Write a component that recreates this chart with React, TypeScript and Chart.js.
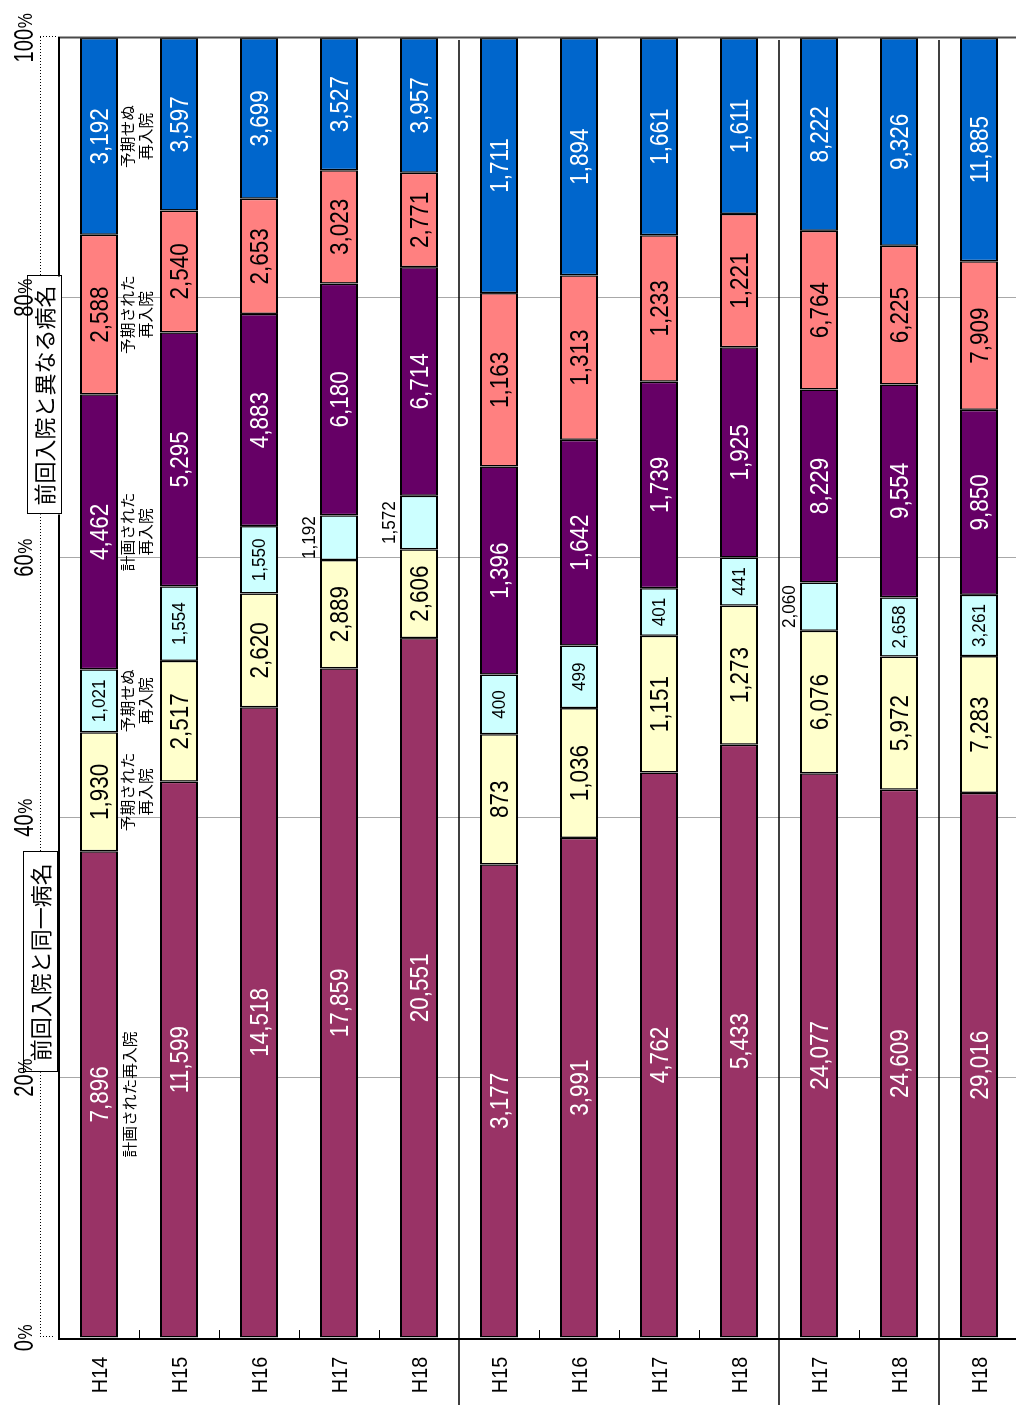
import React, { useEffect, useRef } from 'react';
import { Chart, registerables } from 'chart.js';

Chart.register(...registerables);

// ---- data ----
const categories = ['H14', 'H15', 'H16', 'H17', 'H18', 'H15', 'H16', 'H17', 'H18', 'H17', 'H18', 'H18'];
const plannedSame = [7896, 11599, 14518, 17859, 20551, 3177, 3991, 4762, 5433, 24077, 24609, 29016];
const expectedSame = [1930, 2517, 2620, 2889, 2606, 873, 1036, 1151, 1273, 6076, 5972, 7283];
const unexpectedSame = [1021, 1554, 1550, 1192, 1572, 400, 499, 401, 441, 2060, 2658, 3261];
const plannedDiff = [4462, 5295, 4883, 6180, 6714, 1396, 1642, 1739, 1925, 8229, 9554, 9850];
const expectedDiff = [2588, 2540, 2653, 3023, 2771, 1163, 1313, 1233, 1221, 6764, 6225, 7909];
const unexpectedDiff = [3192, 3597, 3699, 3527, 3957, 1711, 1894, 1661, 1611, 8222, 9326, 11885];
const valueTicks = [0, 20, 40, 60, 80, 100];
const seriesNames = [
  ['計画された再入院'],
  ['予期された', '再入院'],
  ['予期せぬ', '再入院'],
  ['計画された', '再入院'],
  ['予期された', '再入院'],
  ['予期せぬ', '再入院'],
];
const groupTitles = ['前回入院と同一病名', '前回入院と異なる病名'];
const groupEnds = [4, 8, 10];
const outsideLabelCats = [3, 4, 9];

// ---- styles ----
const series = [plannedSame, expectedSame, unexpectedSame, plannedDiff, expectedDiff, unexpectedDiff];
const fills = ['#993366', '#FFFFCC', '#CCFFFF', '#660066', '#FF8080', '#0066CC'];
const textColors = ['#ffffff', '#000000', '#000000', '#ffffff', '#000000', '#ffffff'];
const titleCenters = [28.9, 72.5];
const titleWidths = [220, 238];
const titleTops = [23, 27];
const NUM = '"Liberation Sans", Arial, sans-serif';
const CJK = '"Noto Sans CJK JP", "Noto Sans CJK SC", sans-serif';

function fmt(v: number) {
  return v.toLocaleString('en-US');
}

function drawScaled(ctx: CanvasRenderingContext2D, text: string, x: number, baseY: number, font: string, sx: number, color: string, align: CanvasTextAlign = 'center', baseline: CanvasTextBaseline = 'alphabetic') {
  ctx.save();
  ctx.font = font;
  ctx.fillStyle = color;
  ctx.textAlign = align;
  ctx.textBaseline = baseline;
  ctx.translate(x, baseY);
  ctx.scale(sx, 1);
  ctx.fillText(text, 0, 0);
  ctx.restore();
}

const decor = {
  id: 'decor',
  afterDatasetsDraw(chart: any) {
    const ctx: CanvasRenderingContext2D = chart.ctx;
    const xs = chart.scales.x;
    const ys = chart.scales.y;
    const area = chart.chartArea;
    const x0 = xs.getPixelForValue(0);
    const x100 = xs.getPixelForValue(100);
    const step = ys.getPixelForValue(1) - ys.getPixelForValue(0);
    ctx.save();

    // 100% line
    ctx.strokeStyle = '#4a4a4a';
    ctx.lineWidth = 2;
    ctx.beginPath();
    ctx.moveTo(x100 + 0.5, area.top - 1);
    ctx.lineTo(x100 + 0.5, chart.height);
    ctx.stroke();

    // category axis (0%)
    ctx.strokeStyle = '#000';
    ctx.lineWidth = 2;
    ctx.beginPath();
    ctx.moveTo(x0 - 1, area.top - 1);
    ctx.lineTo(x0 - 1, chart.height);
    ctx.stroke();

    // value axis border line
    ctx.beginPath();
    ctx.moveTo(x0 - 2, area.top);
    ctx.lineTo(x100 + 1, area.top);
    ctx.stroke();

    // category tick marks & group separators
    for (let k = 1; k < categories.length; k++) {
      const yb = ys.getPixelForValue(k) - step / 2;
      if (groupEnds.includes(k - 1)) {
        ctx.lineWidth = 1.5;
        ctx.beginPath();
        ctx.moveTo(0, yb);
        ctx.lineTo(x100 - 2, yb);
        ctx.stroke();
      } else {
        ctx.lineWidth = 1;
        ctx.beginPath();
        ctx.moveTo(x0, Math.round(yb) + 0.5);
        ctx.lineTo(x0 + 8, Math.round(yb) + 0.5);
        ctx.stroke();
      }
    }

    // dotted value axis
    ctx.lineWidth = 1;
    ctx.setLineDash([1, 2]);
    ctx.beginPath();
    ctx.moveTo(x0 + 1, 40.5);
    ctx.lineTo(x100 + 1, 40.5);
    ctx.moveTo(x100 + 1.5, 40);
    ctx.lineTo(x100 + 1.5, area.top - 1);
    ctx.moveTo(x0 + 1.5, 40);
    ctx.lineTo(x0 + 1.5, area.top - 6);
    ctx.stroke();
    ctx.setLineDash([]);

    // category labels
    categories.forEach((c, i) => {
      const cy = ys.getPixelForValue(i);
      drawScaled(ctx, c, 30, cy + 7.9, `22px ${NUM}`, 0.9, '#000');
    });

    // value labels
    series.forEach((arr, d) => {
      const meta = chart.getDatasetMeta(d);
      meta.data.forEach((bar: any, i: number) => {
        const p = bar.getProps(['x', 'y', 'base'], true);
        const cx = (p.x + p.base) / 2;
        const text = fmt(arr[i]);
        if (d === 2) {
          if (outsideLabelCats.includes(i)) {
            drawScaled(ctx, text, cx, p.y - 24, `18px ${NUM}`, 0.95, '#000');
          } else {
            drawScaled(ctx, text, cx, p.y + 6.4, `18px ${NUM}`, 0.95, textColors[d]);
          }
        } else {
          drawScaled(ctx, text, cx, p.y + 9, `25px ${NUM}`, 0.9, textColors[d]);
        }
      });
    });

    // series names next to first bar
    series.forEach((_, d) => {
      const bar: any = chart.getDatasetMeta(d).data[0];
      const p = bar.getProps(['x', 'y', 'base'], true);
      const cx = (p.x + p.base) / 2;
      const lines = seriesNames[d];
      if (lines.length === 1) {
        drawScaled(ctx, lines[0], cx, p.y + 30, `15px ${CJK}`, 1.05, '#000', 'center', 'middle');
      } else {
        drawScaled(ctx, lines[0], cx, p.y + 28, `15px ${CJK}`, 1.05, '#000', 'center', 'middle');
        drawScaled(ctx, lines[1], cx, p.y + 46, `15px ${CJK}`, 1.05, '#000', 'center', 'middle');
      }
    });

    // group title boxes
    groupTitles.forEach((t, g) => {
      const cx = xs.getPixelForValue(titleCenters[g]);
      const w = titleWidths[g];
      const top = titleTops[g];
      const h = 34;
      ctx.fillStyle = '#fff';
      ctx.fillRect(cx - w / 2, top, w, h);
      ctx.strokeStyle = '#000';
      ctx.lineWidth = 1;
      ctx.strokeRect(Math.round(cx - w / 2) + 0.5, top + 0.5, w, h);
      drawScaled(ctx, t, cx, top + h / 2 + 1, `22px ${CJK}`, 1.0, '#000', 'center', 'middle');
    });

    // value tick labels (drawn over the boxes)
    valueTicks.forEach((v) => {
      const px = xs.getPixelForValue(v);
      const digits = String(v);
      ctx.font = `28px ${NUM}`;
      const w1 = ctx.measureText(digits).width * 0.72;
      ctx.font = `20px ${NUM}`;
      const w2 = ctx.measureText('%').width * 0.85;
      const start = px - (w1 + w2) / 2;
      drawScaled(ctx, digits, start, 33, `28px ${NUM}`, 0.72, '#000', 'left');
      drawScaled(ctx, '%', start + w1 + 0.5, 32, `20px ${NUM}`, 0.85, '#000', 'left');
    });

    ctx.restore();
  },
};

export default function App() {
  const ref = useRef<HTMLCanvasElement>(null);

  useEffect(() => {
    const canvas = ref.current;
    if (!canvas) return;
    const totals = categories.map((_, i) => series.reduce((s, arr) => s + arr[i], 0));
    const chart = new Chart(canvas, {
      type: 'bar',
      data: {
        labels: categories,
        datasets: series.map((arr, d) => ({
          label: seriesNames[d].join(''),
          data: arr.map((v, i) => (v / totals[i]) * 100),
          backgroundColor: fills[d],
          borderColor: '#000000',
          borderWidth: { top: 2, bottom: 2, left: 1.5, right: 1.5 },
          borderSkipped: false,
          barThickness: 38,
          inflateAmount: 0,
        })),
      },
      options: {
        indexAxis: 'y',
        responsive: false,
        maintainAspectRatio: false,
        animation: false,
        devicePixelRatio: 1,
        layout: { padding: { top: 0, left: 0, right: 38, bottom: 1 } },
        plugins: { legend: { display: false }, tooltip: { enabled: false } },
        scales: {
          x: {
            type: 'linear',
            position: 'top',
            stacked: true,
            min: 0,
            max: 100,
            ticks: { display: false, stepSize: 20 },
            grid: {
              drawTicks: false,
              lineWidth: 1,
              color: (c: any) => (c.tick && c.tick.value > 0 && c.tick.value < 100 ? '#a8a8a8' : 'rgba(0,0,0,0)'),
            },
            border: { display: false },
            afterFit: (s: any) => {
              s.height = 59;
            },
          },
          y: {
            type: 'category',
            stacked: true,
            ticks: { display: false },
            grid: { display: false },
            border: { display: false },
            afterFit: (s: any) => {
              s.width = 67;
            },
          },
        },
      } as any,
      plugins: [decor],
    });
    return () => chart.destroy();
  }, []);

  return (
    <div style={{ position: 'fixed', left: 0, top: 0, width: 1016, height: 1405, overflow: 'hidden', background: '#fff' }}>
      <canvas
        ref={ref}
        width={1405}
        height={1020}
        style={{
          position: 'absolute',
          left: 0,
          top: 0,
          width: 1405,
          height: 1020,
          transformOrigin: '0 0',
          transform: 'translateY(1405px) rotate(-90deg)',
        }}
      />
    </div>
  );
}
